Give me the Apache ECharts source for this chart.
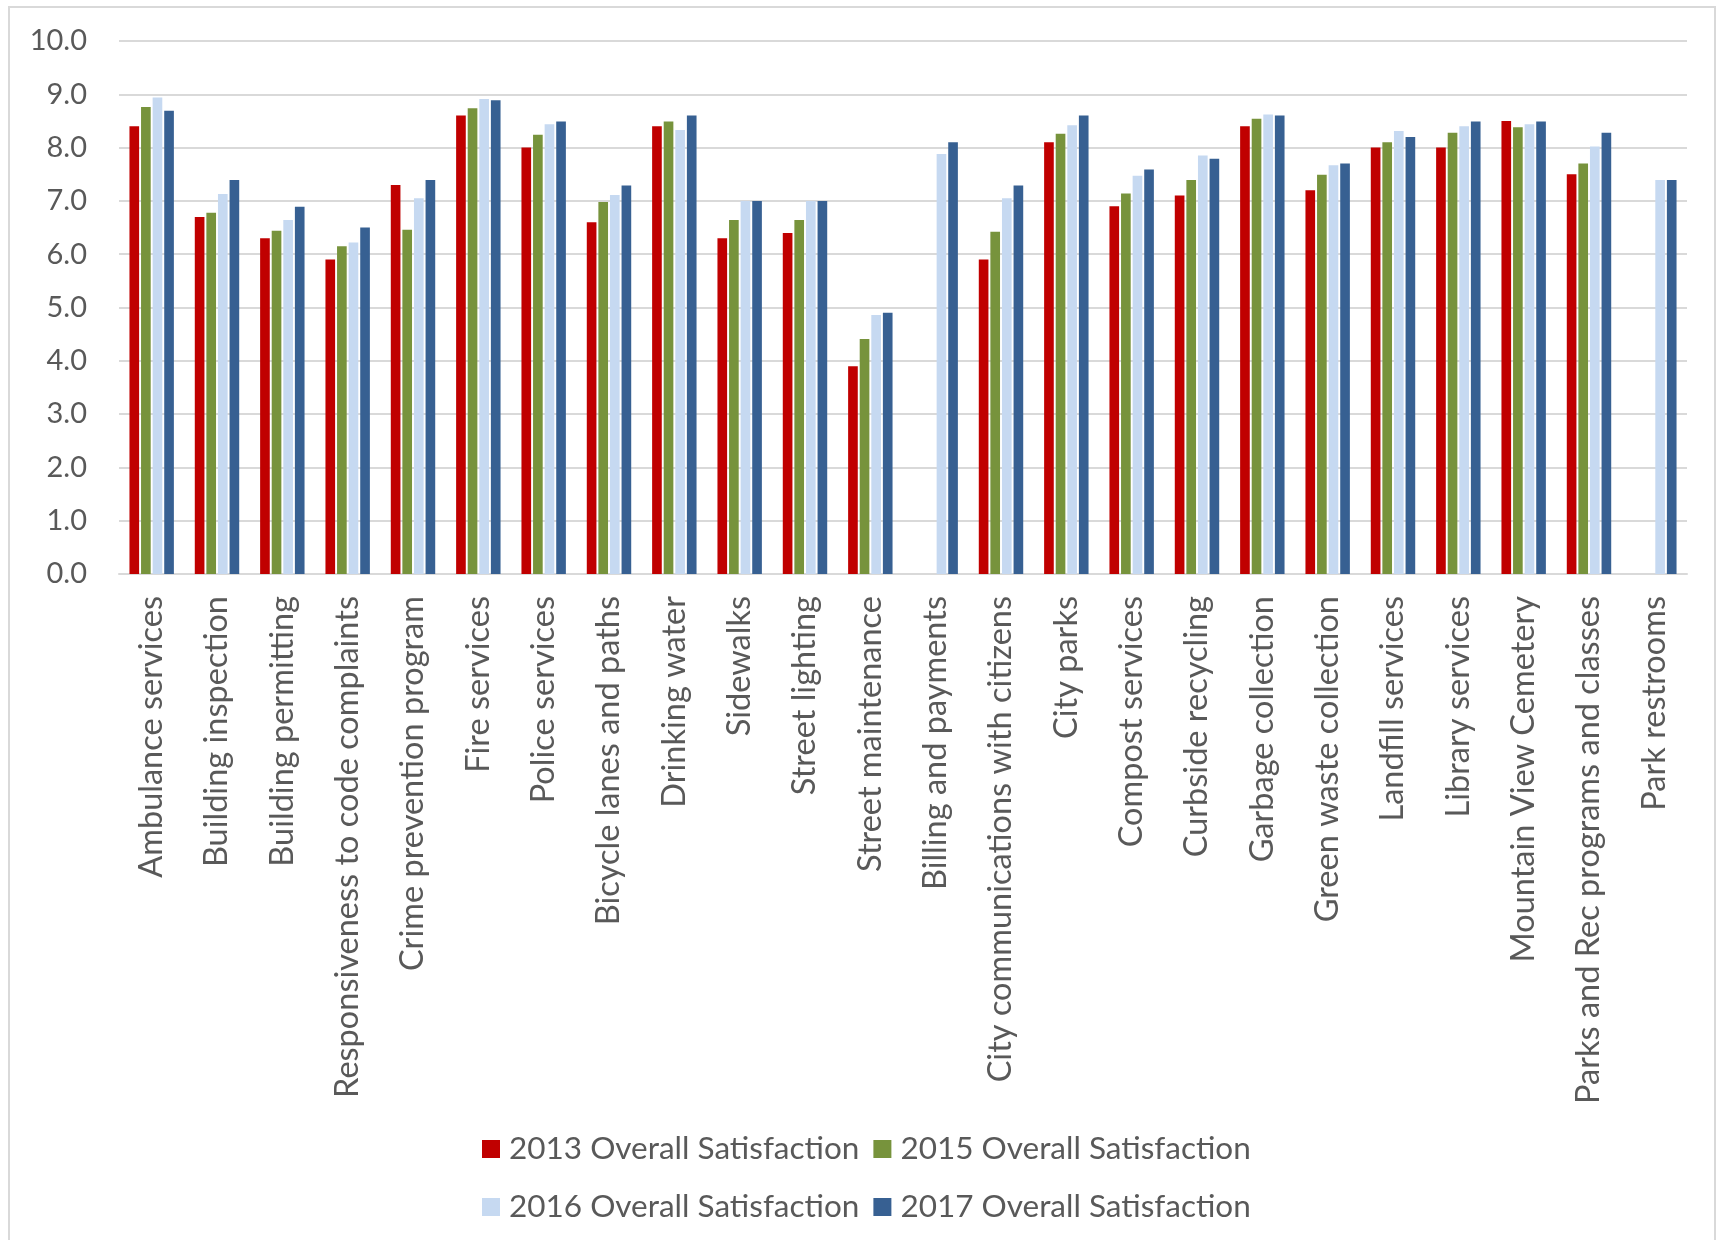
<!DOCTYPE html>
<html>
<head>
<meta charset="utf-8">
<title>Overall Satisfaction by Service</title>
<script src="https://cdn.jsdelivr.net/npm/echarts@6/dist/echarts.min.js"></script>
<style>
  html, body { margin: 0; padding: 0; background: #ffffff; }
  #chart { width: 1720px; height: 1240px; }
</style>
</head>
<body>
<div id="chart"></div>
<script>
// Service categories along the x axis
const categories = [
  'Ambulance services', 'Building inspection', 'Building permitting',
  'Responsiveness to code complaints', 'Crime prevention program', 'Fire services',
  'Police services', 'Bicycle lanes and paths', 'Drinking water', 'Sidewalks',
  'Street lighting', 'Street maintenance', 'Billing and payments',
  'City communications with citizens', 'City parks', 'Compost services',
  'Curbside recycling', 'Garbage collection', 'Green waste collection',
  'Landfill services', 'Library services', 'Mountain View Cemetery',
  'Parks and Rec programs and classes', 'Park restrooms'
];

// Survey scores (null = not surveyed that year)
const sat2013 = [8.4, 6.7, 6.3, 5.9, 7.3, 8.6, 8.0, 6.6, 8.4, 6.3, 6.4, 3.9, null, 5.9, 8.1, 6.9, 7.1, 8.4, 7.2, 8.0, 8.0, 8.5, 7.5, null];
const sat2015 = [8.76, 6.78, 6.44, 6.15, 6.46, 8.74, 8.24, 6.98, 8.49, 6.64, 6.64, 4.41, null, 6.42, 8.26, 7.14, 7.39, 8.54, 7.49, 8.1, 8.28, 8.38, 7.7, null];
const sat2016 = [8.94, 7.13, 6.64, 6.22, 7.05, 8.91, 8.44, 7.11, 8.33, 7.0, 7.0, 4.86, 7.88, 7.05, 8.42, 7.47, 7.85, 8.62, 7.67, 8.31, 8.4, 8.44, 8.02, 7.39];
const sat2017 = [8.69, 7.39, 6.89, 6.5, 7.39, 8.89, 8.49, 7.29, 8.6, 7.0, 7.0, 4.9, 8.1, 7.29, 8.6, 7.59, 7.79, 8.6, 7.7, 8.2, 8.49, 8.49, 8.28, 7.39];

const seriesNames = [
  '2013 Overall Satisfaction', '2015 Overall Satisfaction',
  '2016 Overall Satisfaction', '2017 Overall Satisfaction'
];
const seriesColors = ['#C00000', '#77933C', '#C6D9F1', '#376092'];
const seriesData = [sat2013, sat2015, sat2016, sat2017];

const FONT = 'Lato, "Open Sans", sans-serif';
const TEXT = '#595959';

const chart = echarts.init(document.getElementById('chart'), null, { renderer: 'canvas' });

const legendText = { color: TEXT, fontSize: 31.5, fontFamily: FONT, padding: [0, 0, 0, 4] };

chart.setOption({
  backgroundColor: '#ffffff',
  animation: false,
  textStyle: { fontFamily: FONT },
  graphic: [{
    type: 'rect',
    shape: { x: 9, y: 7, width: 1706, height: 1260 },
    style: { fill: 'none', stroke: '#D9D9D9', lineWidth: 2 },
    silent: true
  }],
  grid: { left: 119, right: 33, top: 41, bottom: 666, containLabel: false },
  legend: [
    {
      data: seriesNames.slice(0, 2),
      left: 477, top: 1128,
      itemWidth: 18, itemHeight: 18, itemGap: 14,
      icon: 'rect',
      textStyle: legendText
    },
    {
      data: seriesNames.slice(2, 4),
      left: 477, top: 1186,
      itemWidth: 18, itemHeight: 18, itemGap: 14,
      icon: 'rect',
      textStyle: legendText
    }
  ],
  xAxis: {
    type: 'category',
    data: categories,
    axisLine: { show: true, lineStyle: { color: '#D9D9D9', width: 2 } },
    axisTick: { show: false },
    axisLabel: {
      interval: 0,
      rotate: 90,
      margin: 22,
      color: TEXT,
      fontSize: 32.5,
      fontFamily: FONT
    }
  },
  yAxis: {
    type: 'value',
    min: 0, max: 10, interval: 1,
    axisLine: { show: false },
    axisTick: { show: false },
    splitLine: { lineStyle: { color: '#D9D9D9', width: 2 } },
    axisLabel: {
      margin: 32,
      color: TEXT,
      fontSize: 29,
      fontFamily: FONT,
      formatter: v => v.toFixed(1)
    }
  },
  series: seriesNames.map((name, i) => ({
    name,
    type: 'bar',
    data: seriesData[i],
    itemStyle: { color: seriesColors[i] },
    barGap: '20%',
    barCategoryGap: '32%'
  }))
});
</script>
</body>
</html>
